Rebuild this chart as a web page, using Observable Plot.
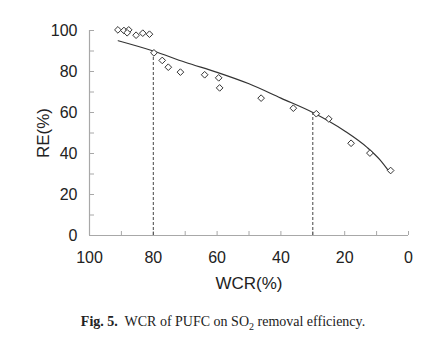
<!DOCTYPE html>
<html>
<head>
<meta charset="utf-8">
<script src="https://cdn.jsdelivr.net/npm/d3@7"></script>
<script src="https://cdn.jsdelivr.net/npm/@observablehq/plot@0.6"></script>
<style>
  html, body { margin: 0; padding: 0; background: #fff; }
  #wrap { width: 440px; }
  #caption { font-family: "Liberation Serif", "Times New Roman", serif; font-size: 14px; color: #222; text-align: center; width: 446px; margin-top: 19px; }
</style>
</head>
<body>
<div id="wrap"></div>
<div id="caption"><b>Fig. 5.</b>&nbsp; WCR of PUFC on SO<sub style="font-size:10px">2</sub> removal efficiency.</div>
<script>
// measured points
const wcr = [91.1, 89.2, 87.7, 88.2, 85.4, 83.3, 81.2, 79.8, 77.2, 75.3, 71.5, 63.9, 59.5, 59.2, 46.2, 36.1, 28.9, 25.0, 18.0, 12.1, 5.6];
const re  = [100.3, 100, 100.3, 98.9, 97.7, 98.7, 98.2, 89.1, 85.4, 82.1, 79.7, 78.4, 76.9, 72.0, 67.0, 62.1, 59.4, 56.9, 45.0, 40.2, 31.7];
// fitted trend curve
const fitX = [91, 80, 70, 60, 50, 40, 30, 20, 13, 9, 6];
const fitY = [95, 90, 84.5, 79.6, 74, 67, 60, 51, 43, 37, 31];
// dashed markers
const markX = [80, 30];
const markY = [89.5, 59.5];
// ticks
const xLabels = [100, 80, 60, 40, 20, 0];
const xTicks = [100, 90, 80, 70, 60, 50, 40, 30, 20, 10, 0];
const yLabels = [0, 20, 40, 60, 80, 100];
const yTicks = [0, 10, 20, 30, 40, 50, 60, 70, 80, 90, 100];

const pts = wcr.map((x, i) => ({x, y: re[i]}));
const fit = fitX.map((x, i) => ({x, y: fitY[i]}));
const marks = markX.map((x, i) => ({x, y: markY[i]}));
const axisColor = "#a8a8a8";

const chart = Plot.plot({
  width: 440,
  height: 295,
  marginLeft: 89,
  marginRight: 32,
  marginTop: 30,
  marginBottom: 60,
  style: {fontFamily: "'Liberation Sans', Arial, sans-serif", background: "#fff", color: "#222"},
  x: {domain: [100, 0], label: null},
  y: {domain: [0, 100], label: null},
  marks: [
    Plot.axisX({ticks: xLabels, tickSize: 0, tickPadding: 16, fontSize: 16, label: null}),
    Plot.axisY({ticks: yLabels, tickSize: 0, tickPadding: 12, fontSize: 16, label: null}),
    Plot.tickX(xTicks, {x: d => d, stroke: axisColor, insetTop: 201}),
    Plot.tickY(yTicks, {y: d => d, stroke: axisColor, insetRight: 314}),
    Plot.ruleX([100], {stroke: axisColor, strokeWidth: 1.2}),
    Plot.ruleY([0], {stroke: axisColor, strokeWidth: 1.2}),
    Plot.ruleX(marks, {x: "x", y1: 0, y2: "y", stroke: "#444", strokeDasharray: "3,2", strokeWidth: 1}),
    Plot.line(fit, {x: "x", y: "y", curve: "monotone-x", stroke: "#333", strokeWidth: 1.2}),
    Plot.dot(pts, {x: "x", y: "y", symbol: "diamond2", r: 3, stroke: "#333", fill: "#fff", strokeWidth: 1}),
    Plot.text(["WCR(%)"], {text: d => d, frameAnchor: "bottom", lineAnchor: "middle", dy: 48, fontSize: 17, fill: "#222"}),
    Plot.text(["RE(%)"], {text: d => d, frameAnchor: "left", textAnchor: "middle", lineAnchor: "middle", dx: -46, rotate: -90, fontSize: 17, fill: "#222"})
  ]
});
document.getElementById("wrap").appendChild(chart);
</script>
</body>
</html>
